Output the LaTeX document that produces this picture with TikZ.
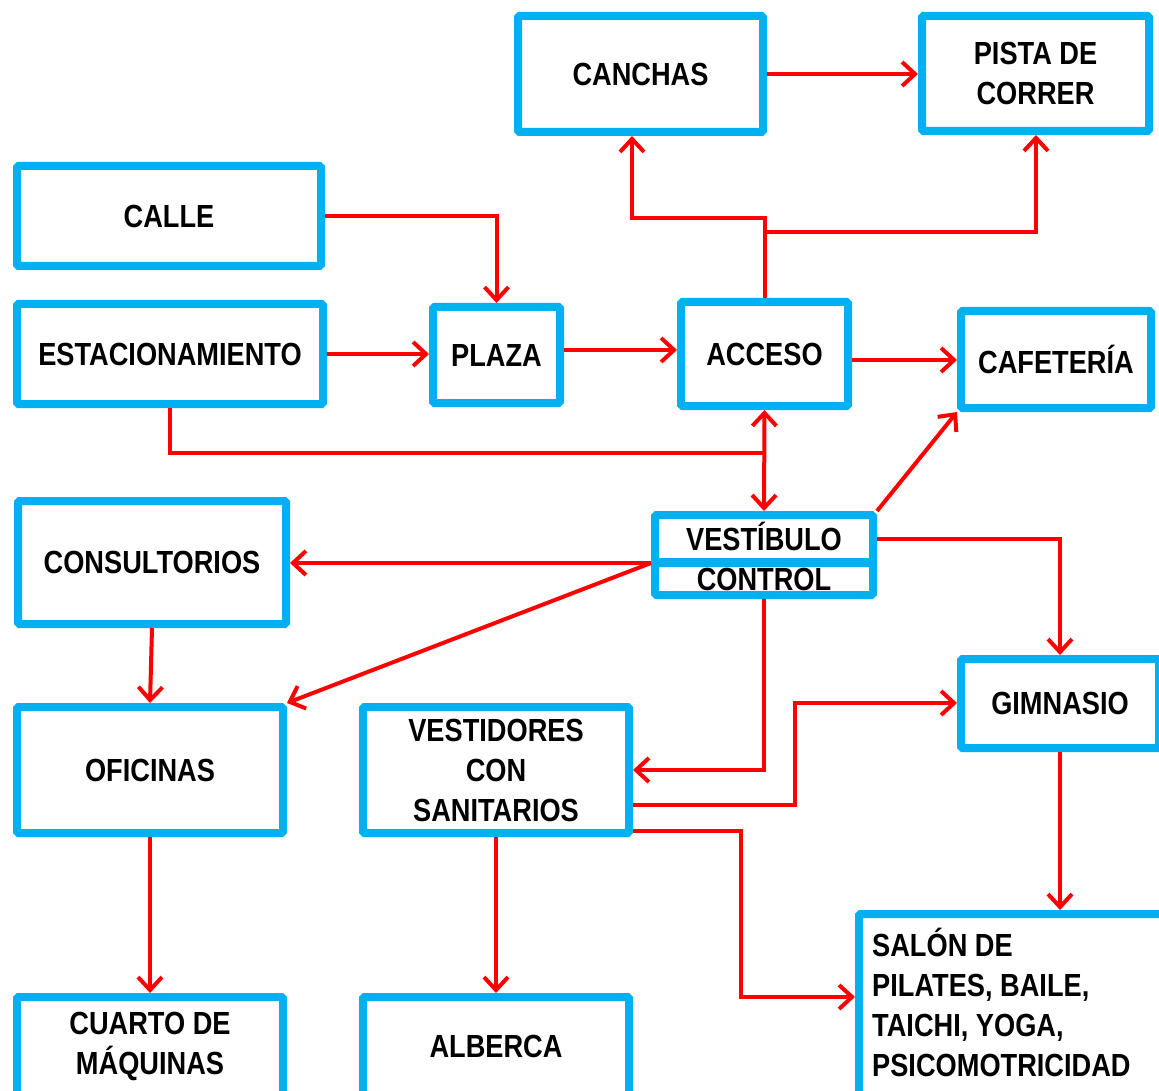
\documentclass[tikz,border=0pt]{standalone}
\usepackage{fontspec}
\setmainfont{Liberation Sans}[FakeStretch=0.85]
\usetikzlibrary{arrows.meta,calc}

\definecolor{boxblue}{RGB}{0,176,240}
\definecolor{linkred}{RGB}{255,0,0}

\tikzset{
    box/.style={draw=boxblue, line width=8pt, rounded corners=1.5pt, fill=white,
        inner sep=0pt, align=center,
        font=\fontsize{32}{40}\selectfont\bfseries},
    lbl/.style={inner sep=0pt, align=left,
        font=\fontsize{32}{40}\selectfont\bfseries},
    link/.style={draw=linkred, line width=4pt},
    arrow/.style={link, -{Straight Barb[length=13pt,width=24pt]}},
    twoway/.style={link, {Straight Barb[length=13pt,width=24pt]}-{Straight Barb[length=13pt,width=24pt]}}
}

\begin{document}
\begin{tikzpicture}[x=1pt, y=-1pt]
    \useasboundingbox (0,0) rectangle (1159,1091);
    \clip (0,0) rectangle (1159,1091);

    % Draw Boxes
    % -- top row
    \node[box, minimum width=245, minimum height=116] (canchas) at (640.5,74) {CANCHAS};
    \node[box, minimum width=227, minimum height=115] (pista) at (1035.5,73.5) {PISTA DE\\CORRER};
    \node[box, minimum width=304, minimum height=100] (calle) at (169,216) {CALLE};

    % -- access row
    \node[box, minimum width=306, minimum height=100] (estac) at (170,354) {ESTACIONAMIENTO};
    \node[box, minimum width=127, minimum height=96] (plaza) at (496.5,355) {PLAZA};
    \node[box, minimum width=167, minimum height=104] (acc) at (764.5,354) {ACCESO};
    \node[box, minimum width=190, minimum height=97] (cafe) at (1056,359.5) {CAFETER\'IA};

    % -- middle
    \node[box, minimum width=268, minimum height=123] (consult) at (152,562.5) {CONSULTORIOS};
    \node[box, minimum width=218, minimum height=47, text height=23pt, text depth=0pt] (vest) at (764,538.5) {VEST\'IBULO};
    \node[box, minimum width=218, minimum height=32, text height=23pt, text depth=0pt] (ctrl) at (764,579) {CONTROL};
    \node[box, minimum width=198, minimum height=89] (gim) at (1060,703.5) {GIMNASIO};
    \node[box, minimum width=266, minimum height=126] (ofic) at (150,770) {OFICINAS};
    \node[box, minimum width=266, minimum height=126] (vestid) at (496,770) {VESTIDORES\\CON\\SANITARIOS};

    % -- bottom row
    \node[box, minimum width=266, minimum height=99] (cuarto) at (150,1046.5) {CUARTO DE\\M\'AQUINAS};
    \node[box, minimum width=266, minimum height=99] (alberca) at (496,1046.5) {ALBERCA};
    \node[box, minimum width=307, minimum height=182] (salon) at (1012.5,1005) {};
    \node[lbl, anchor=west] (salontxt) at (872,1002) {SAL\'ON DE\\PILATES, BAILE,\\TAICHI, YOGA,\\PSICOMOTRICIDAD};

    % Helper points for the bends
    \coordinate (kl) at (632,218);
    \coordinate (kr) at (1036,232);
    \coordinate (j) at (764.5,453);
    \coordinate (g1) at (795,703);
    \coordinate (s1) at (741,997);
    \coordinate (vw) at (651,563);

    % Draw Connectors
    % -- top
    \draw[arrow] (canchas.east) -- (canchas.east -| pista.west);
    \draw[arrow] (calle.east) -| (plaza.north);
    \draw[arrow] (estac.east) -- (estac.east -| plaza.west);
    \draw[arrow] ($(plaza.east)+(0,-5)$) -- ($(acc.west)+(0,-4)$);
    \draw[arrow] ($(acc.east)+(0,6)$) -- ($(cafe.west)+(0,0.5)$);

    % -- acceso branches
    \draw[arrow] (acc.north) |- (kl) -- (kl |- canchas.south);
    \draw[arrow] (acc.north |- kr) -- (kr) -- (kr |- pista.south);

    % -- estacionamiento to vestibulo
    \draw[link] (estac.south) |- (j);
    \draw[twoway] (acc.south) -- (vest.north);

    % -- from vestibulo
    \draw[arrow] (vest.north east) -- (cafe.south west);
    \draw[arrow] (vest.east) -| (gim.north);
    \draw[arrow] (vw) -- (vw -| consult.east);
    \draw[arrow] (vw) -- (ofic.north east);
    \draw[arrow] (ctrl.south) |- (vestid.east);

    % -- from vestidores
    \draw[arrow] ($(vestid.east)+(0,35)$) -| (g1) -- (g1 -| gim.west);
    \draw[arrow] ($(vestid.east)+(0,61)$) -| (s1) -- (s1 -| salon.west);
    \draw[arrow] (vestid.south) -- (alberca.north);

    % -- left column and gimnasio
    \draw[arrow] (consult.south) -- (ofic.north);
    \draw[arrow] (ofic.south) -- (cuarto.north);
    \draw[arrow] (gim.south) -- (gim.south |- salon.north);
\end{tikzpicture}
\end{document}
